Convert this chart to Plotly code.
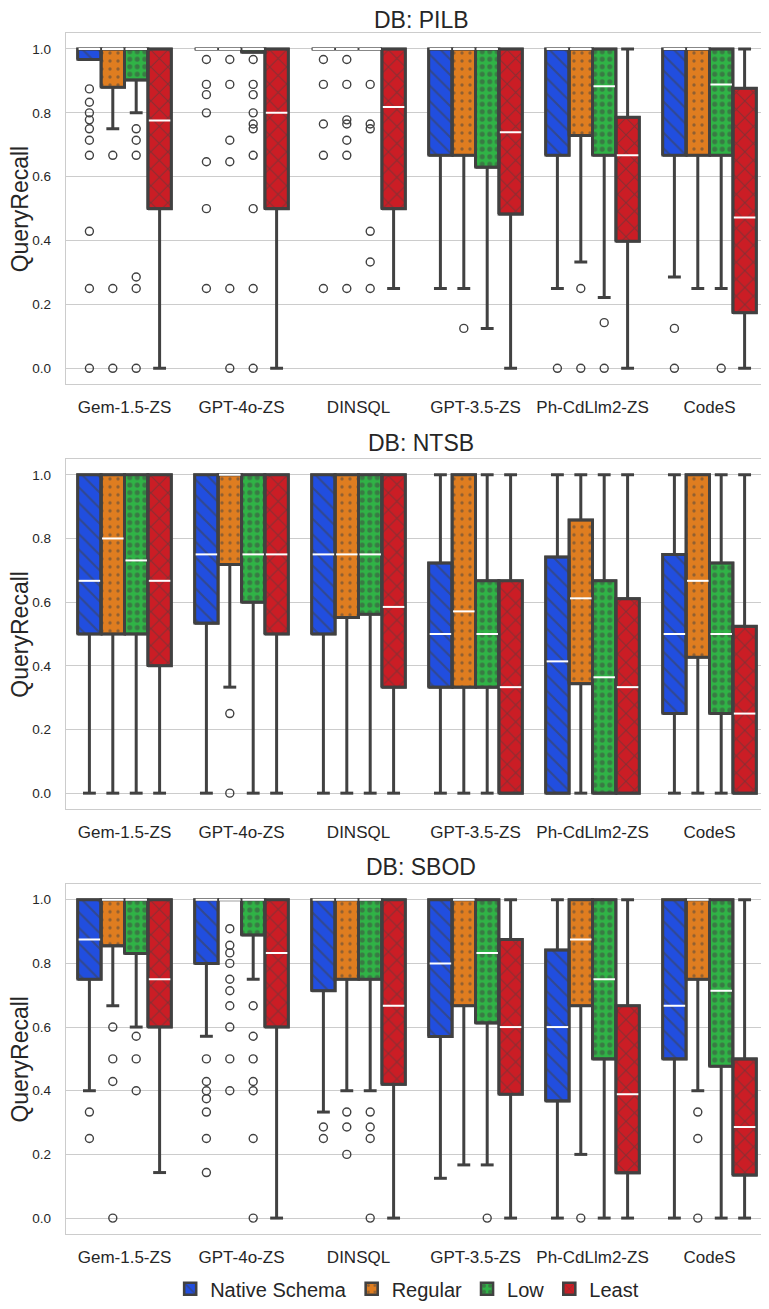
import plotly.graph_objects as go

MODELS = ["Gem-1.5-ZS", "GPT-4o-ZS", "DINSQL", "GPT-3.5-ZS", "Ph-CdLlm2-ZS", "CodeS"]
VARIANTS = ["Native Schema", "Regular", "Low", "Least"]
DB_NAMES = ["PILB", "NTSB", "SBOD"]

# rows = models, columns = variants (Native Schema, Regular, Low, Least)
PILB_Q1 = [[0.967, 0.88, 0.903, 0.5], [1, 1, 0.99, 0.5], [1, 1, 1, 0.5],
           [0.667, 0.667, 0.63, 0.483], [0.667, 0.729, 0.667, 0.398], [0.667, 0.667, 0.667, 0.174]]
PILB_MED = [[1, 1, 1, 0.776], [1, 1, 1, 0.8], [1, 1, 1, 0.818],
            [1, 1, 1, 0.739], [1, 1, 0.883, 0.667], [1, 1, 0.889, 0.472]]
PILB_Q3 = [[1, 1, 1, 1], [1, 1, 1, 1], [1, 1, 1, 1],
           [1, 1, 1, 1], [1, 1, 1, 0.786], [1, 1, 1, 0.877]]
PILB_LO = [[0.967, 0.75, 0.8, 0], [1, 1, 0.99, 0], [1, 1, 1, 0.25],
           [0.25, 0.25, 0.125, 0], [0.25, 0.333, 0.222, 0], [0.286, 0.25, 0.25, 0]]
PILB_HI = [[1, 1, 1, 1], [1, 1, 1, 1], [1, 1, 1, 1],
           [1, 1, 1, 1], [1, 1, 1, 1], [1, 1, 1, 1]]
PILB_OUT = [
    [[0.875, 0.833, 0.8, 0.778, 0.75, 0.714, 0.667, 0.429, 0.25, 0.0], [0.667, 0.25, 0.0],
     [0.75, 0.714, 0.667, 0.286, 0.25, 0.0], []],
    [[0.967, 0.889, 0.857, 0.8, 0.647, 0.5, 0.25], [0.967, 0.889, 0.714, 0.647, 0.25, 0.0],
     [0.967, 0.889, 0.857, 0.8, 0.765, 0.75, 0.667, 0.5, 0.25, 0.0], []],
    [[0.967, 0.889, 0.765, 0.667, 0.25], [0.967, 0.889, 0.778, 0.765, 0.714, 0.667, 0.25],
     [0.889, 0.765, 0.75, 0.429, 0.333, 0.25], []],
    [[], [0.125], [], []],
    [[0.0], [0.25, 0.0], [0.143, 0.0], []],
    [[0.125, 0.0], [], [0.0], []],
]

NTSB_Q1 = [[0.5, 0.5, 0.5, 0.4], [0.534, 0.718, 0.6, 0.5], [0.5, 0.552, 0.562, 0.333],
           [0.333, 0.333, 0.333, 0], [0, 0.344, 0, 0], [0.25, 0.427, 0.25, 0]]
NTSB_MED = [[0.667, 0.8, 0.731, 0.667], [0.75, 1, 0.75, 0.75], [0.75, 0.75, 0.75, 0.585],
            [0.5, 0.571, 0.5, 0.333], [0.414, 0.612, 0.364, 0.333], [0.5, 0.667, 0.5, 0.25]]
NTSB_Q3 = [[1, 1, 1, 1], [1, 1, 1, 1], [1, 1, 1, 1],
           [0.723, 1, 0.667, 0.667], [0.742, 0.858, 0.667, 0.611], [0.75, 1, 0.723, 0.524]]
NTSB_LO = [[0, 0, 0, 0], [0, 0.333, 0, 0], [0, 0, 0, 0],
           [0, 0, 0, 0], [0, 0, 0, 0], [0, 0, 0, 0]]
NTSB_HI = [[1, 1, 1, 1], [1, 1, 1, 1], [1, 1, 1, 1],
           [1, 1, 1, 1], [1, 1, 1, 1], [1, 1, 1, 1]]
NTSB_OUT = [
    [[], [], [], []],
    [[], [0.25, 0.0], [], []],
    [[], [], [], []],
    [[], [], [], []],
    [[], [], [], []],
    [[], [], [], []],
]

SBOD_Q1 = [[0.75, 0.855, 0.831, 0.6], [0.8, 1, 0.889, 0.6], [0.714, 0.75, 0.75, 0.42],
           [0.57, 0.667, 0.613, 0.389], [0.368, 0.667, 0.5, 0.142], [0.5, 0.75, 0.477, 0.135]]
SBOD_MED = [[0.875, 1, 1, 0.75], [1, 1, 1, 0.833], [1, 1, 1, 0.667],
            [0.8, 1, 0.833, 0.6], [0.6, 0.875, 0.75, 0.389], [0.667, 1, 0.714, 0.286]]
SBOD_Q3 = [[1, 1, 1, 1], [1, 1, 1, 1], [1, 1, 1, 1],
           [1, 1, 1, 0.875], [0.842, 1, 1, 0.667], [1, 1, 1, 0.5]]
SBOD_LO = [[0.4, 0.667, 0.6, 0.143], [0.571, 1, 0.75, 0], [0.333, 0.4, 0.4, 0],
           [0.125, 0.167, 0.167, 0], [0, 0.2, 0, 0], [0, 0.4, 0, 0]]
SBOD_HI = [[1, 1, 1, 1], [1, 1, 1, 1], [1, 1, 1, 1],
           [1, 1, 1, 1], [1, 1, 1, 1], [1, 1, 1, 1]]
SBOD_OUT = [
    [[0.333, 0.25], [0.6, 0.5, 0.429, 0.0], [0.571, 0.5, 0.4], []],
    [[0.5, 0.429, 0.4, 0.375, 0.333, 0.25, 0.143],
     [0.909, 0.857, 0.833, 0.8, 0.75, 0.714, 0.667, 0.6, 0.5, 0.4],
     [0.667, 0.571, 0.5, 0.429, 0.4, 0.25, 0.0], []],
    [[0.286, 0.25], [0.333, 0.286, 0.2], [0.333, 0.286, 0.25, 0.0], []],
    [[], [], [0.0], []],
    [[], [0.0], [], []],
    [[], [0.333, 0.25, 0.0], [], []],
]

Y_TICKS = [0.0, 0.2, 0.4, 0.6, 0.8, 1.0]

DATA = {
    "PILB": (PILB_Q1, PILB_MED, PILB_Q3, PILB_LO, PILB_HI, PILB_OUT),
    "NTSB": (NTSB_Q1, NTSB_MED, NTSB_Q3, NTSB_LO, NTSB_HI, NTSB_OUT),
    "SBOD": (SBOD_Q1, SBOD_MED, SBOD_Q3, SBOD_LO, SBOD_HI, SBOD_OUT),
}

# ---- styles ----
COLORS = ["rgb(33,78,223)", "rgb(223,125,32)", "rgb(48,179,70)", "rgb(203,29,37)"]
PATTERNS = [
    dict(shape="\\", size=11, solidity=0.2),
    dict(shape=".", size=8, solidity=0.14),
    dict(shape=".", size=7.5, solidity=0.36),
    dict(shape="x", size=12, solidity=0.17),
]
LINE = "#414141"
GRID = "#cccccc"
TEXT = "#262626"
FONT = "Liberation Sans, Arial, sans-serif"
OFFS = [-0.3, -0.1, 0.1, 0.3]
BOXW = 0.2
CAPH = 0.055
MEDH = 0.092
DOMAINS = [[0.7075, 1.0], [0.3538, 0.6454], [0.0, 0.2916]]
TITLE_Y = [1.0105, 0.6587, 0.3057]

fig = go.Figure()

for k, db in enumerate(DB_NAMES):
    q1s, meds, q3s, los, his, outs = DATA[db]
    xa = "x" if k == 0 else f"x{k+1}"
    ya = "y" if k == 0 else f"y{k+1}"
    # boxes
    for j, var in enumerate(VARIANTS):
        xs = [i + OFFS[j] for i in range(len(MODELS))]
        base = [q1s[i][j] for i in range(len(MODELS))]
        h = [q3s[i][j] - q1s[i][j] for i in range(len(MODELS))]
        pat = dict(PATTERNS[j])
        pat.update(fgcolor=LINE, fillmode="overlay")
        fig.add_trace(go.Bar(
            x=xs, y=h, base=base, width=BOXW, name=var, legendgroup=var,
            showlegend=(k == 0), xaxis=xa, yaxis=ya, hoverinfo="skip",
            marker=dict(color=COLORS[j], line=dict(color=LINE, width=2.6), pattern=pat),
        ))
    # outlines + whiskers
    wx, wy = [], []
    mx, my = [], []
    ox, oy = [], []
    for i in range(len(MODELS)):
        for j in range(len(VARIANTS)):
            xc = i + OFFS[j]
            q1, md, q3, lo, hi = q1s[i][j], meds[i][j], q3s[i][j], los[i][j], his[i][j]
            x0, x1 = xc - BOXW / 2, xc + BOXW / 2
            wx += [x0, x1, x1, x0, x0, None]
            wy += [q1, q1, q3, q3, q1, None]
            if hi > q3:
                wx += [xc, xc, None, xc - CAPH, xc + CAPH, None]
                wy += [q3, hi, None, hi, hi, None]
            if lo < q1:
                wx += [xc, xc, None, xc - CAPH, xc + CAPH, None]
                wy += [q1, lo, None, lo, lo, None]
            mx += [xc - MEDH, xc + MEDH, None]
            my += [md, md, None]
            for v in outs[i][j]:
                ox.append(xc)
                oy.append(v)
    fig.add_trace(go.Scatter(x=wx, y=wy, mode="lines", line=dict(color=LINE, width=3),
                             showlegend=False, hoverinfo="skip", xaxis=xa, yaxis=ya))
    fig.add_trace(go.Scatter(x=mx, y=my, mode="lines", line=dict(color="white", width=2),
                             showlegend=False, hoverinfo="skip", xaxis=xa, yaxis=ya))
    fig.add_trace(go.Scatter(x=ox, y=oy, mode="markers",
                             marker=dict(symbol="circle-open", size=8, color=LINE,
                                         line=dict(width=1.4, color=LINE)),
                             showlegend=False, hoverinfo="skip", xaxis=xa, yaxis=ya))

    axx = dict(domain=[0, 1], anchor=ya, range=[-0.5, 5.5], tickmode="array",
               tickvals=list(range(len(MODELS))), ticktext=MODELS, showgrid=False,
               zeroline=False, showline=True, mirror=True, linecolor=GRID, linewidth=1.3,
               ticks="", tickfont=dict(size=17, color=TEXT), ticklabelstandoff=7)
    axy = dict(domain=DOMAINS[k], anchor=xa, range=[-0.05, 1.05], tickmode="array",
               tickvals=Y_TICKS, tickformat=".1f", showgrid=True, gridcolor=GRID, gridwidth=1,
               zeroline=False, showline=True, mirror=True, linecolor=GRID, linewidth=1.3,
               ticks="", tickfont=dict(size=13.5, color=TEXT), ticklabelstandoff=11)
    fig.layout["xaxis" if k == 0 else f"xaxis{k+1}"] = axx
    fig.layout["yaxis" if k == 0 else f"yaxis{k+1}"] = axy

    fig.add_annotation(text=f"DB: {db}", xref="paper", yref="paper", x=0.506, y=TITLE_Y[k],
                       xanchor="center", yanchor="middle", showarrow=False,
                       font=dict(size=23, color=TEXT))
    fig.add_annotation(text="QueryRecall", xref="paper", yref="paper", x=-0.066,
                       y=(DOMAINS[k][0] + DOMAINS[k][1]) / 2, textangle=-90,
                       xanchor="center", yanchor="middle", showarrow=False,
                       font=dict(size=23, color=TEXT))

# the page body adds an 8px offset, so the figure is sized to end at the window edge
fig.update_layout(
    width=761, height=1301, autosize=False,
    margin=dict(l=58, r=1, t=25, b=69),
    paper_bgcolor="white", plot_bgcolor="white",
    barmode="overlay",
    font=dict(family=FONT, color=TEXT),
    legend=dict(orientation="h", x=0.486, xanchor="center", y=-0.0456, yanchor="middle",
                font=dict(size=20, color=TEXT), itemwidth=30, tracegroupgap=0,
                bgcolor="rgba(0,0,0,0)"),
)

fig.write_html("out.html")
